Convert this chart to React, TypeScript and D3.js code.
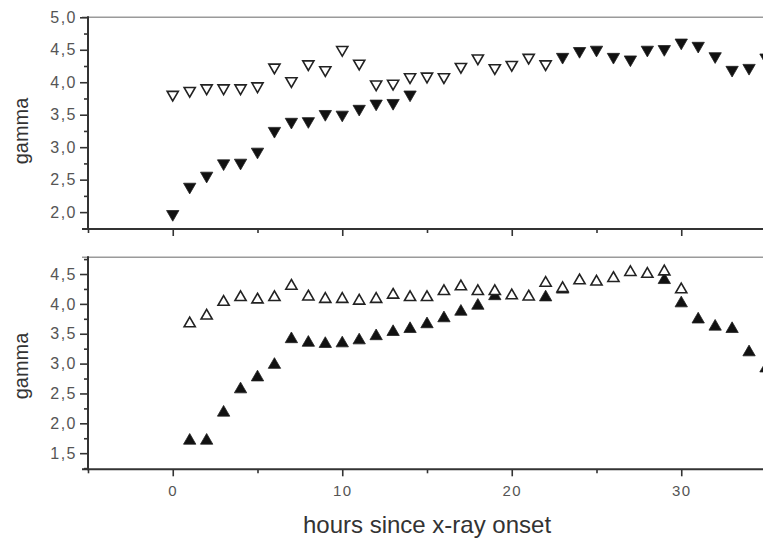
import { useEffect, useRef } from 'react';
import * as d3 from 'd3';

// top panel: down triangles
const topOpenHours = [0, 1, 2, 3, 4, 5, 6, 7, 8, 9, 10, 11, 12, 13, 14, 15, 16, 17, 18, 19, 20, 21, 22];
const topOpenGamma = [3.81, 3.87, 3.91, 3.91, 3.91, 3.94, 4.23, 4.02, 4.28, 4.19, 4.5, 4.29, 3.97, 3.98, 4.08, 4.09, 4.08, 4.24, 4.37, 4.22, 4.27, 4.38, 4.28];
const topFilledHours = [0, 1, 2, 3, 4, 5, 6, 7, 8, 9, 10, 11, 12, 13, 14, 23, 24, 25, 26, 27, 28, 29, 30, 31, 32, 33, 34, 35];
const topFilledGamma = [1.97, 2.39, 2.56, 2.75, 2.76, 2.93, 3.25, 3.39, 3.4, 3.51, 3.5, 3.59, 3.67, 3.68, 3.81, 4.39, 4.48, 4.5, 4.39, 4.35, 4.5, 4.51, 4.61, 4.56, 4.4, 4.19, 4.22, 4.38];

// bottom panel: up triangles
const botOpenHours = [1, 2, 3, 4, 5, 6, 7, 8, 9, 10, 11, 12, 13, 14, 15, 16, 17, 18, 19, 20, 21, 22, 23, 24, 25, 26, 27, 28, 29, 30];
const botOpenGamma = [3.67, 3.8, 4.03, 4.11, 4.07, 4.11, 4.3, 4.12, 4.08, 4.08, 4.05, 4.08, 4.15, 4.11, 4.11, 4.21, 4.29, 4.21, 4.21, 4.14, 4.12, 4.35, 4.26, 4.39, 4.37, 4.43, 4.53, 4.5, 4.54, 4.24];
const botFilledHours = [1, 2, 3, 4, 5, 6, 7, 8, 9, 10, 11, 12, 13, 14, 15, 16, 17, 18, 19, 22, 23, 29, 30, 31, 32, 33, 34, 35];
const botFilledGamma = [1.71, 1.71, 2.18, 2.57, 2.77, 2.98, 3.41, 3.35, 3.33, 3.34, 3.39, 3.46, 3.53, 3.58, 3.66, 3.76, 3.87, 3.97, 4.13, 4.11, 4.24, 4.4, 4.01, 3.74, 3.62, 3.58, 3.19, 2.92];

const xMajor = [0, 10, 20, 30];
const xMinor = [-5, 5, 15, 25, 35];
const topMajor = [2.0, 2.5, 3.0, 3.5, 4.0, 4.5, 5.0];
const topMinor = [1.75, 2.25, 2.75, 3.25, 3.75, 4.25, 4.75];
const botMajor = [1.5, 2.0, 2.5, 3.0, 3.5, 4.0, 4.5];
const botMinor = [1.25, 1.75, 2.25, 2.75, 3.25, 3.75, 4.25, 4.75];

const FONT = '"Liberation Sans", Arial, sans-serif';

export default function App() {
  const svgRef = useRef<SVGSVGElement>(null);

  useEffect(() => {
    const width = 763;
    const height = 538;
    const svg = d3.select(svgRef.current);
    svg.selectAll('*').remove();
    svg.attr('width', width).attr('height', height);

    svg.append('rect').attr('width', width).attr('height', height).attr('fill', 'white');

    const xScale = d3.scaleLinear().domain([-5, 40]).range([88, 850.75]);
    const axisLeft = 88;

    const panels = [
      {
        y: d3.scaleLinear().domain([1.74, 5.0]).range([229, 17.3]),
        major: topMajor, minor: topMinor,
        series: [
          { hours: topOpenHours, gamma: topOpenGamma, filled: false },
          { hours: topFilledHours, gamma: topFilledGamma, filled: true },
        ],
        rotate: 180, labels: false, labelY: 131,
      },
      {
        y: d3.scaleLinear().domain([1.23, 4.78]).range([469.3, 257.3]),
        major: botMajor, minor: botMinor,
        series: [
          { hours: botFilledHours, gamma: botFilledGamma, filled: true },
          { hours: botOpenHours, gamma: botOpenGamma, filled: false },
        ],
        rotate: 0, labels: true, labelY: 366,
      },
    ];

    panels.forEach(p => {
      const [yBottom, yTop] = p.y.range();

      // frame top line (grey)
      svg.append('line')
        .attr('x1', axisLeft - 6).attr('x2', width)
        .attr('y1', yTop).attr('y2', yTop)
        .attr('stroke', '#9a9a9a').attr('stroke-width', 1.6);

      // y axis
      const yMin = svg.append('g')
        .attr('transform', `translate(${axisLeft},0)`)
        .call(d3.axisLeft(p.y).tickValues(p.minor).tickSize(4).tickFormat(() => ''));
      yMin.select('.domain').remove();

      const yAx = svg.append('g')
        .attr('transform', `translate(${axisLeft},0)`)
        .call(d3.axisLeft(p.y).tickValues(p.major).tickSize(8).tickPadding(3)
          .tickFormat(d => (d as number).toFixed(1).replace('.', ',')));
      yAx.select('.domain').remove();
      yAx.selectAll('text')
        .style('font-family', FONT)
        .style('font-size', '16px')
        .style('letter-spacing', '1.5px')
        .attr('fill', '#555');

      // x axis
      const xMin = svg.append('g')
        .attr('transform', `translate(0,${yBottom})`)
        .call(d3.axisBottom(xScale).tickValues(xMinor).tickSize(4).tickFormat(() => ''));
      xMin.select('.domain').remove();

      const xAx = svg.append('g')
        .attr('transform', `translate(0,${yBottom})`)
        .call(d3.axisBottom(xScale).tickValues(xMajor).tickSize(7).tickPadding(9)
          .tickFormat(d => (p.labels ? String(d) : '')));
      xAx.select('.domain').remove();
      xAx.selectAll('text')
        .style('font-family', FONT)
        .style('font-size', '15px')
        .style('letter-spacing', '1.5px')
        .attr('fill', '#555');

      svg.selectAll('.tick line').attr('stroke', '#333').attr('stroke-width', 1.6);

      // axis lines
      svg.append('line')
        .attr('x1', axisLeft).attr('x2', axisLeft)
        .attr('y1', yTop - 1).attr('y2', yBottom + 1)
        .attr('stroke', '#333').attr('stroke-width', 2);
      svg.append('line')
        .attr('x1', axisLeft - 6).attr('x2', width)
        .attr('y1', yBottom).attr('y2', yBottom)
        .attr('stroke', '#333').attr('stroke-width', 2);

      // markers
      p.series.forEach(s => {
        const sym = d3.symbol().type(d3.symbolTriangle).size(s.filled ? 66 : 54);
        svg.append('g')
          .selectAll('path')
          .data(s.hours.map((h, i) => ({ h, g: s.gamma[i] })))
          .join('path')
          .attr('d', sym())
          .attr('transform', d => `translate(${xScale(d.h)},${p.y(d.g)}) rotate(${p.rotate})`)
          .attr('fill', s.filled ? '#111' : 'white')
          .attr('stroke', '#222')
          .attr('stroke-width', s.filled ? 0.8 : 1.6);
      });

      // y label
      svg.append('text')
        .attr('transform', `translate(28,${p.labelY}) rotate(-90)`)
        .attr('text-anchor', 'middle')
        .style('font-family', FONT)
        .style('font-size', '20px')
        .attr('fill', '#333')
        .text('gamma');
    });

    // x title
    svg.append('text')
      .attr('x', 427)
      .attr('y', 533)
      .attr('text-anchor', 'middle')
      .style('font-family', FONT)
      .style('font-size', '24px')
      .attr('fill', '#333')
      .text('hours since x-ray onset');
  }, []);

  return (
    <svg ref={svgRef} style={{ position: 'fixed', left: 0, top: 0, display: 'block' }} />
  );
}
